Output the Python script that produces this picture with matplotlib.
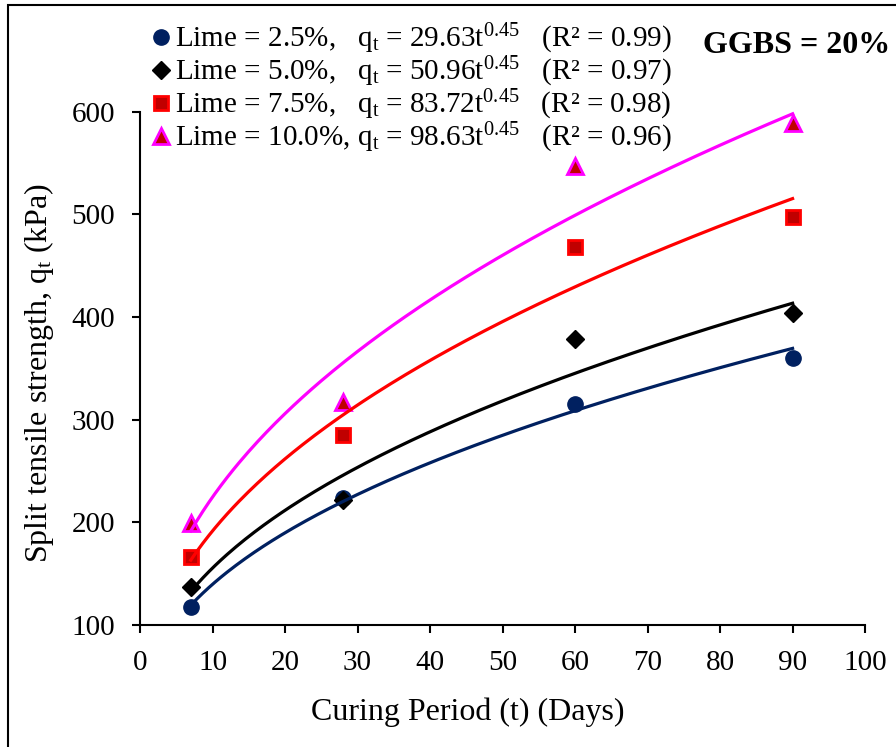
import numpy as np
import matplotlib
matplotlib.use("Agg")
import matplotlib.pyplot as plt
from matplotlib.patches import Rectangle

plt.rcParams['font.family'] = ['Liberation Serif', 'DejaVu Serif']
plt.rcParams['mathtext.fontset'] = 'custom'
plt.rcParams['mathtext.rm'] = 'Liberation Serif'
plt.rcParams['mathtext.it'] = 'Liberation Serif:italic'

# data (kPa)
curing_days = [7, 28, 60, 90]
lime_25 = [118, 224, 315, 360]
lime_50 = [137, 222, 379, 404]
lime_75 = [166, 285, 468, 497]
lime_100 = [199, 317, 547, 589]

legend_labels = [
    "Lime = 2.5%,   q$_\\mathrm{t}$ = 29.63t$^{0.45}$   (R² = 0.99)",
    "Lime = 5.0%,   q$_\\mathrm{t}$ = 50.96t$^{0.45}$   (R² = 0.97)",
    "Lime = 7.5%,   q$_\\mathrm{t}$ = 83.72t$^{0.45}$   (R² = 0.98)",
    "Lime = 10.0%, q$_\\mathrm{t}$ = 98.63t$^{0.45}$   (R² = 0.96)",
]
x_ticks = list(range(0, 101, 10))
y_ticks = list(range(100, 601, 100))

# marker / line styles per series
styles = [
    dict(marker='o', ms=11, mfc='#002060', mec='#002060', mew=1, line='#002060'),
    dict(marker='D', ms=9, mfc='black', mec='black', mew=1, line='black'),
    dict(marker='s', ms=10, mfc='#C00000', mec='#FF0000', mew=2, line='#FF0000'),
    dict(marker='^', ms=11, mfc='#C00000', mec='#FF00FF', mew=2, line='#FF00FF'),
]


def power_fit(t, q):
    # power trendline, least squares in log-log space
    b, ln_a = np.polyfit(np.log(t), np.log(q), 1)
    return np.exp(ln_a), b


fig = plt.figure(figsize=(8.96, 7.47), dpi=100)
ax = fig.add_axes([0.1563, 0.1633, 0.8092, 0.6872])

handles = []
t = np.array(curing_days, dtype=float)
t_fit = np.linspace(t.min(), t.max(), 200)
for q, st in zip([lime_25, lime_50, lime_75, lime_100], styles):
    h, = ax.plot(curing_days, q, linestyle='none', marker=st['marker'],
                 markersize=st['ms'], markerfacecolor=st['mfc'],
                 markeredgecolor=st['mec'], markeredgewidth=st['mew'],
                 zorder=2, clip_on=False)
    a, b = power_fit(t, np.array(q, dtype=float))
    ax.plot(t_fit, a * t_fit ** b, color=st['line'], lw=2.3, zorder=3,
            clip_on=False)
    handles.append(h)

ax.set_xlim(0, 100)
ax.set_ylim(100, 600)
ax.set_xticks(x_ticks)
ax.set_yticks(y_ticks)
ax.spines['top'].set_visible(False)
ax.spines['right'].set_visible(False)
for s in ['left', 'bottom']:
    ax.spines[s].set_linewidth(1.5)
ax.tick_params(axis='both', direction='out', length=6, width=1.5,
               labelsize=21)
ax.tick_params(axis='x', pad=12)
ax.tick_params(axis='y', pad=12)

ax.set_xlabel("Curing Period (t) (Days)", fontsize=23)
ax.xaxis.set_label_coords(0.452, -0.142)
ax.set_ylabel("Split tensile strength, q$_\\mathrm{t}$ (kPa)", fontsize=23)
ax.yaxis.set_label_coords(-0.116, 0.491)

ax.legend(handles, legend_labels, loc='upper left', frameon=False,
          fontsize=21, bbox_to_anchor=(149 / 896, 1 - 22 / 747),
          bbox_transform=fig.transFigure, borderpad=0, borderaxespad=0,
          handlelength=0.8, handletextpad=0.08, labelspacing=-0.04)

fig.text(703 / 896, 1 - 53 / 747, "GGBS = 20%", fontsize=23,
         fontweight='bold', va='baseline')

# outer frame of the picture
fig.patches.append(Rectangle((8 / 896, -0.1), 1.2, 1.1 - 5 / 747,
                             transform=fig.transFigure, fill=False,
                             lw=1.5, edgecolor='black'))

fig.savefig("out.png", dpi=100)
